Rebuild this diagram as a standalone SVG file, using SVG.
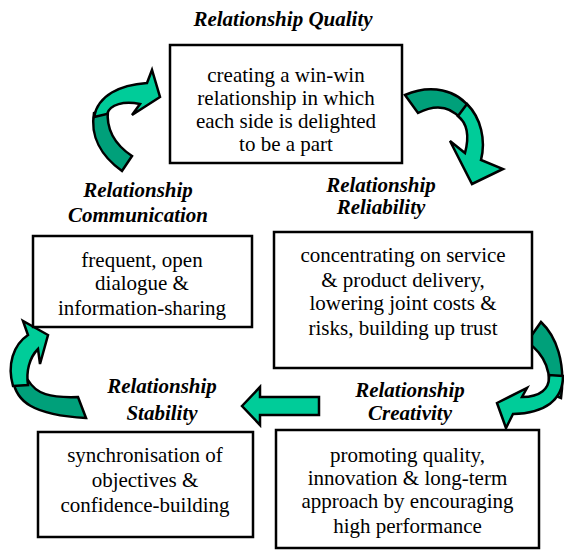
<svg xmlns="http://www.w3.org/2000/svg" width="564" height="552" viewBox="0 0 564 552">
<style>
.box{fill:#fff;stroke:#000;stroke-width:2.5}
.t{font-size:21px;text-anchor:middle;fill:#000}
.h{font-size:21px;font-weight:bold;font-style:italic;text-anchor:middle;fill:#000}
.lt{fill:#00CC99;stroke:#000;stroke-width:2.5;stroke-linejoin:miter}
.dk{fill:#00A07A;stroke:#000;stroke-width:2.5;stroke-linejoin:miter}
</style>
<defs>
<clipPath id="cc"><rect x="33" y="236" width="219" height="85"/></clipPath>
</defs>
<rect width="564" height="552" fill="#fff"/>
<g id="connectors">
<g id="arrow-tl">
<path class="dk" d="M122,171 C101,156 90,136 94,113 L108,110 C106,128 114,144 132,156 Z"/>
<path class="lt" d="M94,117 C98,95 120,85 147,83 L152,70 L160,97 L132,115 L140,104 C124,101 110,104 107,114 Z"/>
</g>
<g id="arrow-tr">
<path class="dk" d="M405,95 C430,84 458,89 471,110 L461,119 C450,106 436,104 418,113 Z"/>
<path class="lt" d="M467,104 C481,118 486,140 481,160 L503,169 L472,184 L450,141 L465,153 C469,138 468,124 458,116 Z"/>
</g>
<g id="arrow-r">
<path class="dk" d="M541,322 C556,336 566,362 561,398 L548,393 C552,374 546,355 527,342 Z"/>
<path class="lt" d="M563,376 C563,400 545,413 513,414 L506,428 L497,403 L527,388 L522,397 C540,397 550,389 549,375 Z"/>
</g>
<g id="arrow-bl">
<path class="dk" d="M13,380 C16,401 32,415 86,418 L78,397 C50,398 36,394 28,380 Z"/>
<path class="lt" d="M13,386 C7,365 13,345 28,335 L23,321 L48,335 L40,364 L38,349 C29,358 26,372 28,385 Z"/>
</g>
<path id="arrow-left" class="lt" d="M242,406 L260,387 L260,397 L319,397 L319,415 L260,415 L260,425 Z"/>
</g>
<g font-family="Liberation Serif, Times New Roman, serif">
<g id="node-quality">
<text class="h" x="283" y="26">Relationship Quality</text>
<rect class="box" x="170" y="45" width="232" height="118"/>
<text class="t" x="286" y="82">creating a win-win</text>
<text class="t" x="286" y="105">relationship in which</text>
<text class="t" x="286" y="128">each side is delighted</text>
<text class="t" x="286" y="151">to be a part</text>
</g>
<g id="node-communication">
<text class="h" x="138" y="197">Relationship</text>
<text class="h" x="138" y="222">Communication</text>
<rect class="box" x="33" y="236" width="219" height="91"/>
<g clip-path="url(#cc)">
<text class="t" x="142" y="267">frequent, open</text>
<text class="t" x="142" y="290">dialogue &amp;</text>
<text class="t" x="142" y="315">information-sharing</text>
</g>
</g>
<g id="node-reliability">
<text class="h" x="381" y="192">Relationship</text>
<text class="h" x="381" y="214">Reliability</text>
<rect class="box" x="274" y="232" width="258" height="136"/>
<text class="t" x="403" y="262">concentrating on service</text>
<text class="t" x="403" y="287">&amp; product delivery,</text>
<text class="t" x="403" y="310">lowering joint costs &amp;</text>
<text class="t" x="403" y="335">risks, building up trust</text>
</g>
<g id="node-stability">
<text class="h" x="162" y="393">Relationship</text>
<text class="h" x="162" y="420">Stability</text>
<rect class="box" x="38" y="432" width="215" height="105"/>
<text class="t" x="145" y="462">synchronisation of</text>
<text class="t" x="145" y="487">objectives &amp;</text>
<text class="t" x="145" y="512">confidence-building</text>
</g>
<g id="node-creativity">
<text class="h" x="410" y="397">Relationship</text>
<text class="h" x="410" y="420">Creativity</text>
<rect class="box" x="276" y="430" width="263" height="118"/>
<text class="t" x="407.5" y="462">promoting quality,</text>
<text class="t" x="407.5" y="485">innovation &amp; long-term</text>
<text class="t" x="407.5" y="508">approach by encouraging</text>
<text class="t" x="407.5" y="533">high performance</text>
</g>
</g>
</svg>
